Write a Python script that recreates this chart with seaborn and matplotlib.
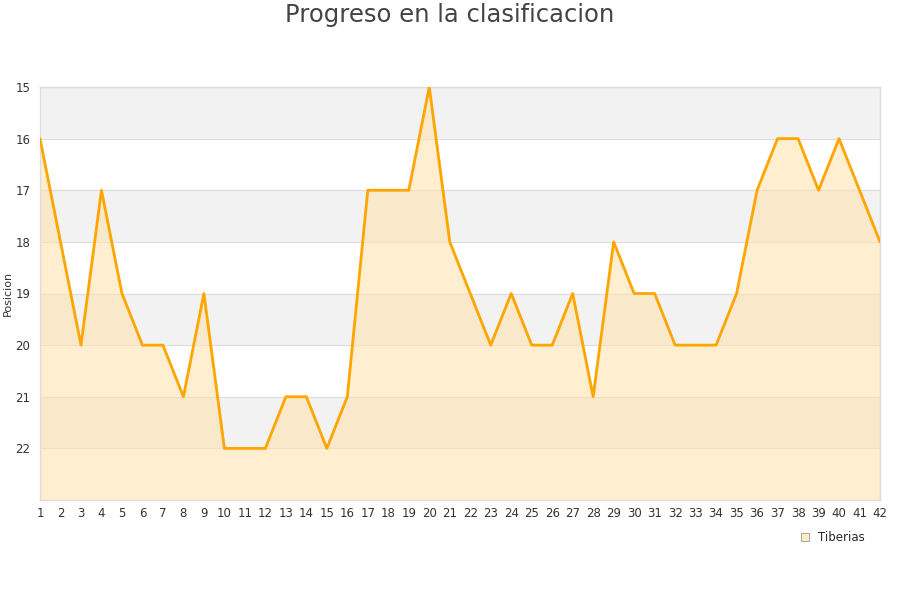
import numpy as np
import matplotlib.pyplot as plt
import seaborn as sns
import pandas as pd
from matplotlib.patches import Patch

# Jornadas y posiciones
jornadas = list(range(1, 43))
posiciones = [16, 18, 20, 17, 19, 20, 20, 21, 19, 22,
              22, 22, 21, 21, 22, 21, 17, 17, 17, 15,
              18, 19, 20, 19, 20, 20, 19, 21, 18, 19,
              19, 20, 20, 20, 19, 17, 16, 16, 17, 16,
              17, 18]
equipo = 'Tiberias'
y_ticks = [15, 16, 17, 18, 19, 20, 21, 22]

df = pd.DataFrame({'Jornada': jornadas, 'Posicion': posiciones})

sns.set_style('white')
fig = plt.figure(figsize=(9, 6), dpi=100)
ax = fig.add_axes([40 / 900, 100 / 600, 840 / 900, 413 / 600])

# bandas alternas
for i, t in enumerate(range(15, 23)):
    ax.axhspan(t, t + 1, color='#f2f2f2' if i % 2 == 0 else 'white', zorder=0)
    ax.axhline(t, color='#dddddd', lw=0.8, zorder=1)

ax.fill_between(df['Jornada'], df['Posicion'], 23, color='#ffe4b0', alpha=0.6, zorder=2)
sns.lineplot(data=df, x='Jornada', y='Posicion', color='#ffa500', lw=2, ax=ax, zorder=3)

ax.set_xlim(1, 42)
ax.set_ylim(23, 15)
ax.set_yticks(y_ticks)
ax.set_xticks(jornadas)
ax.tick_params(axis='both', labelsize=8.5, colors='#333333', length=0)
ax.tick_params(axis='y', pad=7)
ax.tick_params(axis='x', pad=5)
ax.set_xlabel('')
ax.set_ylabel('Posicion', fontsize=8, color='#333333', labelpad=2)
for s in ['top', 'right', 'left', 'bottom']:
    ax.spines[s].set_color('#dddddd')
    ax.spines[s].set_linewidth(1)

fig.suptitle('Progreso en la clasificacion', y=0.995, fontsize=17.5, color='#444444')

leg = ax.legend(handles=[Patch(facecolor='#ffecc4', edgecolor='#999999', lw=0.6, label=equipo)],
                loc='upper right', bbox_to_anchor=(0.995, -0.05), frameon=False,
                fontsize=8.5, handlelength=0.7, handleheight=0.7, handletextpad=0.8)

fig.savefig('out.png', dpi=100)
